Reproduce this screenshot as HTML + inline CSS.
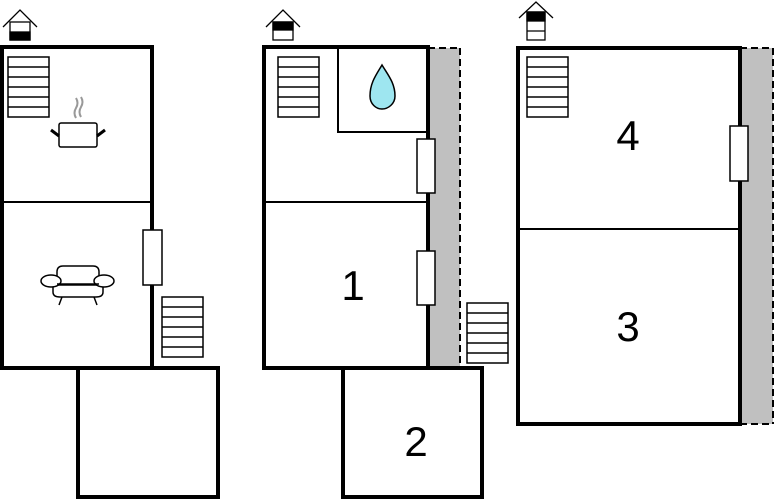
<!DOCTYPE html>
<html><head><meta charset="utf-8"><style>
html,body{margin:0;padding:0;background:#fff;}
svg{display:block;}
text{font-family:"Liberation Sans",sans-serif;fill:#000;}
</style></head><body>
<svg width="774" height="500" viewBox="0 0 774 500" xmlns="http://www.w3.org/2000/svg">
<defs>
<g id="st"><rect x="0" y="0" width="41" height="60" fill="#fff" stroke="#000" stroke-width="1.5"/>
<line x1="0" y1="10" x2="41" y2="10" stroke="#000" stroke-width="1.5"/>
<line x1="0" y1="20" x2="41" y2="20" stroke="#000" stroke-width="1.5"/>
<line x1="0" y1="30" x2="41" y2="30" stroke="#000" stroke-width="1.5"/>
<line x1="0" y1="40" x2="41" y2="40" stroke="#000" stroke-width="1.5"/>
<line x1="0" y1="50" x2="41" y2="50" stroke="#000" stroke-width="1.5"/></g>
</defs>
<!-- house icons -->
<g stroke="#000" stroke-width="1.3" fill="none">
<polyline points="3,27 20,10 37,27"/>
<rect x="10" y="22" width="20" height="18" fill="#fff"/>
<rect x="10" y="32" width="20" height="8" fill="#000"/>
<polyline points="266,27 283,10 300,27"/>
<rect x="273" y="22" width="20" height="18" fill="#fff"/>
<rect x="273" y="22" width="20" height="8" fill="#000"/>
<polyline points="519,18 536,2 553,18"/>
<rect x="527" y="12" width="18" height="28" fill="#fff"/>
<rect x="527" y="12" width="18" height="9" fill="#000"/>
<line x1="527" y1="31" x2="545" y2="31"/>
</g>
<!-- Floor 1 -->
<rect x="2" y="47" width="150" height="321" fill="#fff" stroke="#000" stroke-width="4"/>
<line x1="2" y1="202" x2="152" y2="202" stroke="#000" stroke-width="2"/>
<rect x="78" y="368" width="140" height="129" fill="#fff" stroke="#000" stroke-width="4"/>
<use href="#st" x="8" y="57"/>
<use href="#st" x="162" y="297"/>
<rect x="143" y="230" width="19" height="55" fill="#fff" stroke="#000" stroke-width="1.5"/>
<!-- pot -->
<path d="M76,118 q-3,-5 0,-10 q3,-5 0,-10 M81,117 q-3,-5 0,-10 q3,-5 0,-10" stroke="#999" stroke-width="2" fill="none"/>
<rect x="59" y="123" width="38" height="24" rx="2" fill="#fff" stroke="#000" stroke-width="1.5"/>
<line x1="51" y1="130" x2="59" y2="136" stroke="#000" stroke-width="3"/>
<line x1="105" y1="130" x2="97" y2="136" stroke="#000" stroke-width="3"/>
<!-- sofa -->
<g stroke="#000" stroke-width="1.5" fill="#fff">
<path d="M57,285 L57,272 Q57,266 63,266 L93,266 Q99,266 99,272 L99,285"/>
<path d="M53,285 L53,292 Q53,297 60,297 L96,297 Q103,297 103,292 L103,285 Z"/>
<ellipse cx="51" cy="281" rx="10" ry="6"/>
<ellipse cx="104" cy="281" rx="10" ry="6"/>
<line x1="57" y1="284" x2="99" y2="284"/>
<line x1="62" y1="297" x2="59" y2="305"/>
<line x1="94" y1="297" x2="97" y2="305"/>
</g>
<!-- Floor 2 -->
<rect x="428" y="48" width="32" height="318" fill="#c0c0c0"/>
<line x1="460" y1="48" x2="460" y2="366" stroke="#000" stroke-width="2" stroke-dasharray="7,4"/>
<line x1="428" y1="48" x2="460" y2="48" stroke="#000" stroke-width="2" stroke-dasharray="7,4"/>
<rect x="264" y="47" width="164" height="321" fill="#fff" stroke="#000" stroke-width="4"/>
<line x1="264" y1="202" x2="428" y2="202" stroke="#000" stroke-width="2"/>
<rect x="338" y="48" width="89" height="84" fill="#fff" stroke="#000" stroke-width="2"/>
<path d="M382,65 C376,75 370,83 370,96 C370,104 376,109 382,109 C388,109 395,104 395,96 C395,83 388,75 382,65 Z" fill="#9ee6f0" stroke="#000" stroke-width="1.5"/>
<rect x="343" y="368" width="139" height="129" fill="#fff" stroke="#000" stroke-width="4"/>
<use href="#st" x="278" y="57"/>
<use href="#st" x="467" y="303"/>
<rect x="417" y="139" width="18" height="54" fill="#fff" stroke="#000" stroke-width="1.5"/>
<rect x="417" y="251" width="18" height="54" fill="#fff" stroke="#000" stroke-width="1.5"/>
<text x="353" y="300" font-size="42" text-anchor="middle">1</text>
<text x="416" y="456" font-size="42" text-anchor="middle">2</text>
<!-- Floor 3 -->
<rect x="740" y="48" width="33" height="376" fill="#c0c0c0"/>
<line x1="773" y1="48" x2="773" y2="424" stroke="#000" stroke-width="2" stroke-dasharray="7,4"/>
<line x1="740" y1="48" x2="773" y2="48" stroke="#000" stroke-width="2" stroke-dasharray="7,4"/>
<line x1="740" y1="424" x2="773" y2="424" stroke="#000" stroke-width="2" stroke-dasharray="7,4"/>
<rect x="518" y="48" width="222" height="376" fill="#fff" stroke="#000" stroke-width="4"/>
<line x1="518" y1="229" x2="740" y2="229" stroke="#000" stroke-width="2"/>
<use href="#st" x="527" y="57"/>
<rect x="730" y="126" width="18" height="55" fill="#fff" stroke="#000" stroke-width="1.5"/>
<text x="628" y="150" font-size="42" text-anchor="middle">4</text>
<text x="628" y="341" font-size="42" text-anchor="middle">3</text>
</svg>
</body></html>
